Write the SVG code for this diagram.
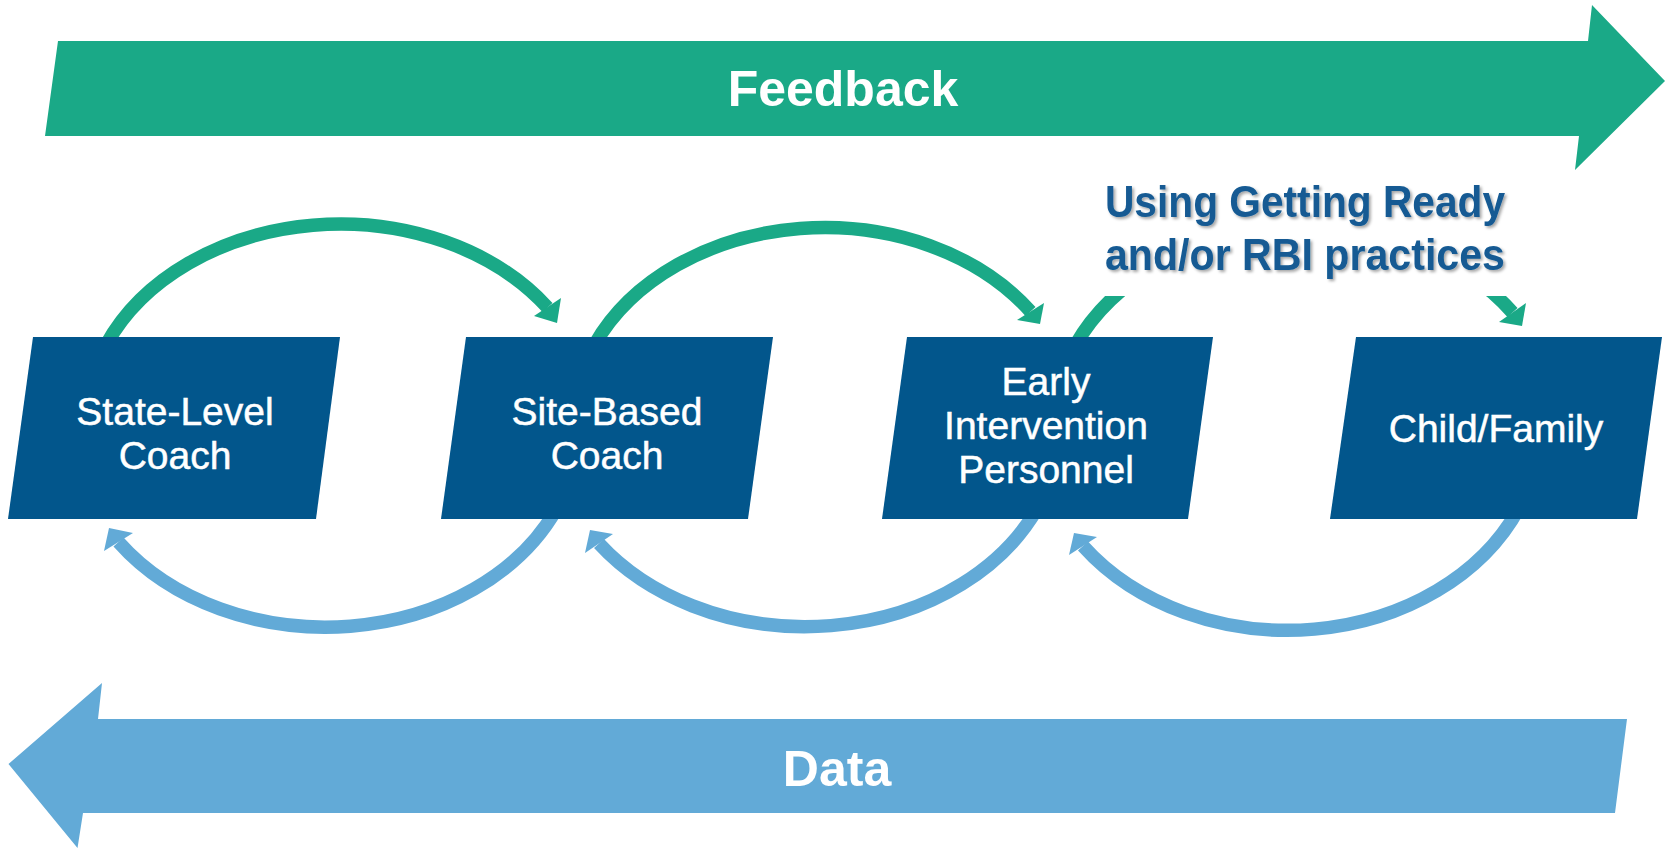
<svg xmlns="http://www.w3.org/2000/svg" width="1665" height="850" viewBox="0 0 1665 850">
  <defs>
    <style>
      .node { fill: #02568C; }
      .ntext { font-family: "Liberation Sans", Arial, sans-serif; font-size: 39px; fill: #FFFFFF; stroke: #FFFFFF; stroke-width: 0.5; text-anchor: middle; }
      .big { font-family: "Liberation Sans", Arial, sans-serif; font-weight: bold; font-size: 50px; fill: #FFFFFF; text-anchor: middle; }
      .title { font-family: "Liberation Sans", Arial, sans-serif; font-weight: bold; font-size: 44px; fill: #135A93; text-anchor: middle; }
      .garc { fill: none; stroke: #1AA987; stroke-width: 13.5; }
      .barc { fill: none; stroke: #62AAD7; stroke-width: 13.5; }
      .ghead { fill: #1AA987; }
      .bhead { fill: #62AAD7; }
    </style>
    <filter id="shadow" x="-5%" y="-20%" width="110%" height="140%">
      <feDropShadow dx="2" dy="2" stdDeviation="1.5" flood-color="#000000" flood-opacity="0.35"/>
    </filter>
  </defs>
  <rect width="1665" height="850" fill="#FFFFFF"/>

  <g id="feedback-arrow">
    <polygon points="58,41 1588,41 1592,5 1665,81 1575,170 1579,136 45,136" fill="#1AA987"/>
    <text class="big" x="843" y="106">Feedback</text>
  </g>

  <g id="data-arrow">
    <polygon points="1627,719 1615,813 83,813 77.5,848 8.5,764 102,683 98,719" fill="#62AAD7"/>
    <text class="big" x="837" y="786">Data</text>
  </g>

  <g id="connectors">
    <path class="garc" d="M106,345 A255,200 0 0 1 547.5,307.5"/>
    <polygon class="ghead" points="557,323 534,316 561,298"/>
    <path class="garc" d="M594.4,345 A252,198 0 0 1 1030.5,311.5"/>
    <polygon class="ghead" points="1040,324 1017,320 1044,303"/>
    <path class="garc" d="M1075.4,345 A252,198 0 0 1 1512.5,312.5"/>
    <polygon class="ghead" points="1522,326 1499,322 1526,303"/>
    <path class="barc" d="M557,508 A253,200 0 0 1 118.5,542"/>
    <polygon class="bhead" points="109,528 133,533 104,551"/>
    <path class="barc" d="M1037.5,508 A255,202 0 0 1 599,543.5"/>
    <polygon class="bhead" points="590,530 613,534 585,553"/>
    <path class="barc" d="M1519,508 A253,205 0 0 1 1083,546"/>
    <polygon class="bhead" points="1074,533 1097,537 1069,555"/>
  </g>

  <g id="practices-label">
    <rect x="1060" y="172" width="470" height="124" fill="#FFFFFF"/>
    <g filter="url(#shadow)">
      <text class="title" x="1305" y="217" textLength="400" lengthAdjust="spacingAndGlyphs">Using Getting Ready</text>
      <text class="title" x="1305" y="270" textLength="400" lengthAdjust="spacingAndGlyphs">and/or RBI practices</text>
    </g>
  </g>

  <g id="node-state-level-coach">
    <polygon class="node" points="33,337 340,337 316,519 8,519"/>
    <text class="ntext" x="175" y="425">State-Level</text>
    <text class="ntext" x="175" y="469">Coach</text>
  </g>

  <g id="node-site-based-coach">
    <polygon class="node" points="466,337 773,337 748,519 441,519"/>
    <text class="ntext" x="607" y="425">Site-Based</text>
    <text class="ntext" x="607" y="469">Coach</text>
  </g>

  <g id="node-early-intervention-personnel">
    <polygon class="node" points="907,337 1213,337 1188,519 882,519"/>
    <text class="ntext" x="1046" y="395">Early</text>
    <text class="ntext" x="1046" y="439">Intervention</text>
    <text class="ntext" x="1046" y="483">Personnel</text>
  </g>

  <g id="node-child-family">
    <polygon class="node" points="1356,337 1662,337 1637,519 1330,519"/>
    <text class="ntext" x="1496" y="442">Child/Family</text>
  </g>
</svg>
